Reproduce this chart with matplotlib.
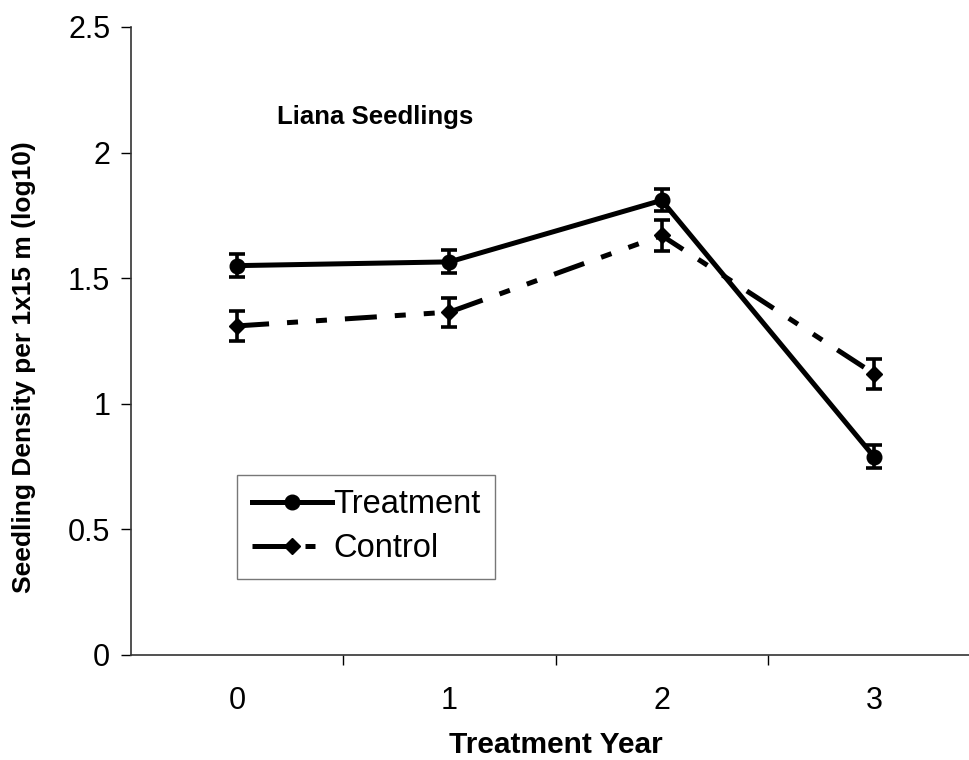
import matplotlib
matplotlib.use("Agg")
import matplotlib.pyplot as plt
from matplotlib.lines import Line2D

plt.rcParams['font.family'] = ['Liberation Sans', 'DejaVu Sans']

years = [0, 1, 2, 3]
treatment = [1.55, 1.565, 1.81, 0.79]
treatment_err = [0.046, 0.046, 0.044, 0.044]
control = [1.31, 1.365, 1.67, 1.12]
control_err = [0.06, 0.058, 0.06, 0.06]
yticks = [0, 0.5, 1, 1.5, 2, 2.5]
ytick_labels = ['0', '0.5', '1', '1.5', '2', '2.5']

fig = plt.figure(figsize=(9.69, 7.6), dpi=100)
ax = fig.add_axes([131/969, 105/760, (980-131)/969, (655-27)/760])

ctrl_dash = (6.4, 3.6, 2.2, 3.6, 2.2, 3.6)
ax.errorbar(years, treatment, yerr=treatment_err, color='black', lw=3.6,
            marker='o', ms=10.5, capsize=5.5, capthick=2.6, elinewidth=2.6,
            zorder=3)
ax.errorbar(years, control, yerr=control_err, color='black', lw=3.6,
            marker='D', ms=7.8, capsize=5.5, capthick=2.6, elinewidth=2.6,
            linestyle=(0, ctrl_dash), zorder=3)

ax.set_xlim(-0.5, 3.5)
ax.set_ylim(0, 2.5)
ax.set_yticks(yticks)
ax.set_yticklabels(ytick_labels)
ax.set_xticks(years)
ax.set_xticklabels([str(y) for y in years])
ax.set_xticks([0.5, 1.5, 2.5], minor=True)
ax.tick_params(axis='x', which='major', length=0, pad=22, labelsize=22)
ax.tick_params(axis='x', which='minor', length=7, width=1, direction='out')
ax.tick_params(axis='y', which='major', length=7, width=1, direction='out', pad=8, labelsize=22)

for s in ['top', 'right']:
    ax.spines[s].set_visible(False)
for s in ['left', 'bottom']:
    ax.spines[s].set_linewidth(1.2)
    ax.spines[s].set_color('#333333')

ax.set_ylabel('Seedling Density per 1x15 m (log10)', fontsize=19, fontweight='bold',
              va='center')
ax.yaxis.set_label_coords((24-131)/849, (655-367)/628)
ax.set_xlabel('Treatment Year', fontsize=21.5, fontweight='bold', va='center')
ax.xaxis.set_label_coords((556-131)/849, (655-745)/628)

ax.text(0.19, 2.14, 'Liana Seedlings', fontsize=18.5, fontweight='bold', va='center', ha='left')

handles = [
    Line2D([0], [0], color='black', lw=3.6, marker='o', ms=10.5),
    Line2D([0], [0], color='black', lw=3.6, marker='D', ms=7.8, linestyle=(0, (8.0, 2.6, 2.0, 10))),
]
leg = ax.legend(handles, ['Treatment', 'Control'], loc='lower left',
                bbox_to_anchor=((237-131)/(980-131), (760-579-105)/(655-27)),
                fontsize=23.5, frameon=True, fancybox=False, edgecolor='#555555',
                handlelength=2.45, handletextpad=0.05, borderpad=0.45, labelspacing=0.4,
                borderaxespad=0)
leg.get_frame().set_linewidth(1.0)

fig.savefig('out.png', dpi=100, facecolor='white')
